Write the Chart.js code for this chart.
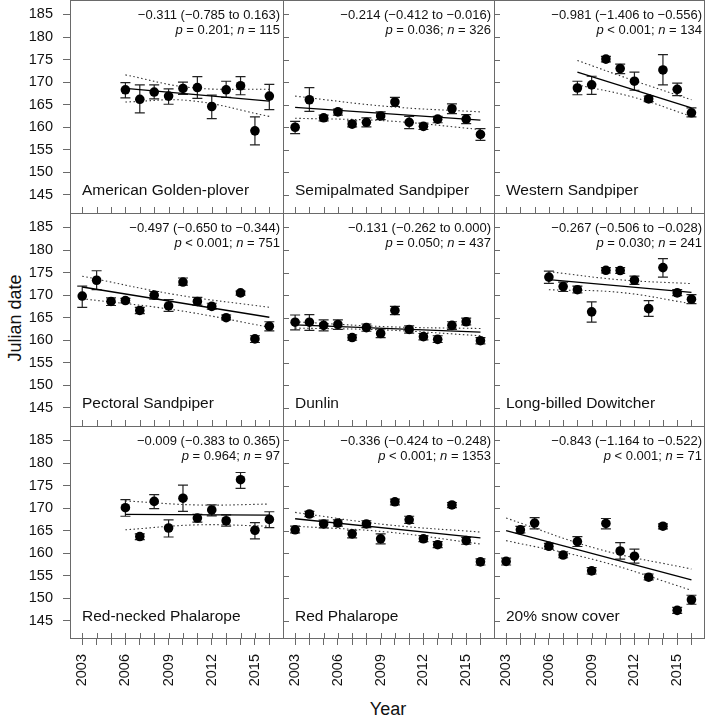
<!DOCTYPE html>
<html>
<head>
<meta charset="utf-8">
<script src="https://cdn.jsdelivr.net/npm/chart.js@4.4.1/dist/chart.umd.min.js"></script>
<style>
html, body { margin: 0; padding: 0; background: #fff; }
#fig { position: relative; width: 709px; height: 718px; overflow: hidden; font-family: "Liberation Sans", Arial, sans-serif; color: #111; }
.panel { position: absolute; }
.lab { position: absolute; font-size: 18px; white-space: nowrap; }
</style>
</head>
<body>
<div id="fig">
  <div class="lab" style="left:15px;top:318px;transform:translate(-50%,-50%) rotate(-90deg);">Julian date</div>
  <div class="lab" style="left:388px;top:709px;transform:translate(-50%,-50%);">Year</div>
</div>
<script>
// --- data ---
const years = [2003, 2004, 2005, 2006, 2007, 2008, 2009, 2010, 2011, 2012, 2013, 2014, 2015, 2016];
const labelYears = [2003, 2006, 2009, 2012, 2015];
const yTicks = [145, 150, 155, 160, 165, 170, 175, 180, 185];

const panelNames = ['American Golden-plover', 'Semipalmated Sandpiper', 'Western Sandpiper',
  'Pectoral Sandpiper', 'Dunlin', 'Long-billed Dowitcher',
  'Red-necked Phalarope', 'Red Phalarope', '20% snow cover'];
const slopeTexts = ['−0.311 (−0.785 to 0.163)', '−0.214 (−0.412 to −0.016)', '−0.981 (−1.406 to −0.556)',
  '−0.497 (−0.650 to −0.344)', '−0.131 (−0.262 to 0.000)', '−0.267 (−0.506 to −0.028)',
  '−0.009 (−0.383 to 0.365)', '−0.336 (−0.424 to −0.248)', '−0.843 (−1.164 to −0.522)'];
const pTexts = ['= 0.201', '= 0.036', '< 0.001', '< 0.001', '= 0.050', '= 0.030', '= 0.964', '< 0.001', '< 0.001'];
const nTexts = ['115', '326', '134', '751', '437', '241', '97', '1353', '71'];

// American Golden-plover
const agpMean = [null, null, null, 168.3, 166.2, 167.8, 166.9, 168.6, 168.8, 164.6, 168.3, 169.2, 159.2, 166.9];
const agpLow  = [null, null, null, 166.5, 163.2, 166.3, 165.1, 167.3, 166.4, 161.9, 166.6, 167.2, 156.1, 163.9];
const agpHigh = [null, null, null, 169.9, 169.4, 169.4, 168.5, 170.0, 171.2, 167.1, 170.2, 171.2, 162.3, 169.5];
const agpFitX = [2006, 2016], agpFit = [168.6, 165.8];
const agpBandX = [2006, 2010.5, 2016], agpUpper = [171.6, 168.8, 168.4], agpLower = [165.6, 165.9, 162.4];

// Semipalmated Sandpiper
const sesaMean = [160.0, 166.1, 162.1, 163.4, 160.7, 161.1, 162.5, 165.6, 161.1, 160.2, 161.8, 164.1, 161.8, 158.4];
const sesaLow  = [158.6, 163.5, 161.4, 162.7, 160.1, 160.1, 161.7, 164.6, 159.7, 159.5, 161.0, 163.0, 160.8, 157.1];
const sesaHigh = [161.3, 168.8, 162.7, 164.0, 161.4, 162.1, 163.4, 166.6, 162.4, 160.9, 162.4, 165.2, 162.8, 159.7];
const sesaFitX = [2003, 2016], sesaFit = [164.4, 161.6];
const sesaBandX = [2003, 2009.5, 2016], sesaUpper = [166.9, 164.6, 163.4], sesaLower = [162.0, 161.4, 159.5];

// Western Sandpiper
const wesaMean = [null, null, null, null, null, 168.7, 169.4, 175.1, 173.0, 170.2, 166.3, 172.7, 168.4, 163.2];
const wesaLow  = [null, null, null, null, null, 167.2, 167.3, 174.5, 171.9, 168.2, 165.7, 169.4, 167.0, 162.3];
const wesaHigh = [null, null, null, null, null, 170.2, 171.3, 175.7, 174.0, 172.2, 166.9, 176.1, 169.8, 164.3];
const wesaFitX = [2008, 2016], wesaFit = [172.2, 164.3];
const wesaBandX = [2008, 2012, 2016], wesaUpper = [174.8, 170.3, 166.1], wesaLower = [169.4, 166.6, 162.4];

// Pectoral Sandpiper
const pesaMean = [169.8, 173.3, 168.6, 168.8, 166.6, 170.0, 167.6, 172.9, 168.6, 167.5, 165.0, 170.5, 160.3, 163.1];
const pesaLow  = [167.3, 171.2, 167.7, 168.3, 165.9, 169.1, 166.4, 172.2, 167.8, 166.9, 164.5, 170.0, 159.5, 162.1];
const pesaHigh = [172.0, 175.4, 169.4, 169.3, 167.3, 170.8, 169.0, 173.8, 169.5, 168.2, 165.6, 170.9, 161.0, 164.1];
const pesaFitX = [2003, 2016], pesaFit = [171.8, 165.1];
const pesaBandX = [2003, 2009.5, 2016], pesaUpper = [174.2, 170.1, 167.3], pesaLower = [169.2, 166.7, 162.9];

// Dunlin
const dunlMean = [164.0, 164.0, 163.3, 163.5, 160.6, 162.8, 161.5, 166.6, 162.4, 160.8, 160.2, 163.3, 164.1, 159.9];
const dunlLow  = [162.3, 162.2, 162.1, 162.4, 160.0, 162.0, 160.6, 165.7, 161.6, 160.1, 159.5, 162.4, 163.4, 159.2];
const dunlHigh = [165.6, 165.7, 164.5, 164.5, 161.2, 163.6, 162.5, 167.5, 163.2, 161.5, 161.0, 164.1, 164.9, 160.6];
const dunlFitX = [2003, 2016], dunlFit = [163.4, 161.8];
const dunlBandX = [2003, 2009.5, 2016], dunlUpper = [164.1, 163.0, 162.6], dunlLower = [162.7, 162.25, 161.0];

// Long-billed Dowitcher
const lbdoMean = [null, null, null, 174.0, 171.9, 171.2, 166.3, 175.5, 175.45, 173.3, 167.0, 176.1, 170.5, 169.1];
const lbdoLow  = [null, null, null, 172.6, 170.8, 170.5, 164.0, 174.9, 174.8, 172.4, 165.3, 174.0, 169.9, 168.1];
const lbdoHigh = [null, null, null, 175.3, 172.9, 172.0, 168.5, 176.1, 176.1, 174.2, 168.8, 178.1, 171.2, 170.1];
const lbdoFitX = [2006, 2016], lbdoFit = [173.45, 170.6];
const lbdoBandX = [2006, 2011, 2016], lbdoUpper = [175.2, 173.4, 172.55], lbdoLower = [171.2, 170.6, 168.1];

// Red-necked Phalarope
const rnphMean = [null, null, null, 170.1, 163.7, 171.5, 165.6, 172.2, 167.8, 169.6, 167.2, 176.3, 165.1, 167.5];
const rnphLow  = [null, null, null, 168.2, 163.0, 169.9, 163.6, 169.3, 166.9, 168.3, 166.0, 174.4, 163.2, 165.7];
const rnphHigh = [null, null, null, 171.9, 164.3, 173.0, 167.4, 175.1, 168.6, 170.7, 168.5, 177.9, 166.8, 169.2];
const rnphFitX = [2006, 2016], rnphFit = [168.6, 168.45];
const rnphBandX = [2006, 2011, 2016], rnphUpper = [171.6, 170.7, 170.9], rnphLower = [165.2, 166.3, 166.0];

// Red Phalarope
const rephMean = [165.2, 168.7, 166.5, 166.7, 164.3, 166.5, 163.2, 171.4, 167.4, 163.2, 161.9, 170.7, 162.8, 158.1];
const rephLow  = [164.5, 168.1, 165.6, 166.0, 163.4, 165.7, 162.1, 170.7, 166.6, 162.6, 161.25, 170.1, 162.0, 157.4];
const rephHigh = [166.0, 169.3, 167.35, 167.4, 165.1, 167.2, 164.3, 172.0, 168.2, 163.9, 162.6, 171.25, 163.5, 158.75];
const rephFitX = [2003, 2016], rephFit = [167.65, 163.4];
const rephBandX = [2003, 2009.5, 2016], rephUpper = [169.05, 166.3, 164.7], rephLower = [166.0, 164.7, 162.05];

// 20% snow cover
const snowMean = [158.2, 165.2, 166.7, 161.55, 159.6, 162.6, 156.1, 166.6, 160.5, 159.35, 154.7, 166.0, 147.35, 149.7];
const snowLow  = [157.4, 164.5, 165.4, 160.9, 159.0, 161.5, 155.4, 165.4, 158.7, 157.8, 154.1, 165.4, 146.7, 148.7];
const snowHigh = [158.9, 165.95, 167.9, 162.2, 160.3, 163.7, 156.8, 167.7, 162.35, 160.9, 155.4, 166.5, 148.0, 150.7];
const snowFitX = [2003, 2016], snowFit = [165.0, 154.1];
const snowBandX = [2003, 2009.5, 2016], snowUpper = [167.8, 160.9, 156.5], snowLower = [162.8, 158.3, 151.8];

const meanSets = [agpMean, sesaMean, wesaMean, pesaMean, dunlMean, lbdoMean, rnphMean, rephMean, snowMean];
const lowSets = [agpLow, sesaLow, wesaLow, pesaLow, dunlLow, lbdoLow, rnphLow, rephLow, snowLow];
const highSets = [agpHigh, sesaHigh, wesaHigh, pesaHigh, dunlHigh, lbdoHigh, rnphHigh, rephHigh, snowHigh];
const fitXSets = [agpFitX, sesaFitX, wesaFitX, pesaFitX, dunlFitX, lbdoFitX, rnphFitX, rephFitX, snowFitX];
const fitSets = [agpFit, sesaFit, wesaFit, pesaFit, dunlFit, lbdoFit, rnphFit, rephFit, snowFit];
const bandXSets = [agpBandX, sesaBandX, wesaBandX, pesaBandX, dunlBandX, lbdoBandX, rnphBandX, rephBandX, snowBandX];
const upperSets = [agpUpper, sesaUpper, wesaUpper, pesaUpper, dunlUpper, lbdoUpper, rnphUpper, rephUpper, snowUpper];
const lowerSets = [agpLower, sesaLower, wesaLower, pesaLower, dunlLower, lbdoLower, rnphLower, rephLower, snowLower];

// --- layout ---
const FONT = '"Liberation Sans", Arial, sans-serif';
const AXIS = '#6a6a6a';
const colLeft = [0, 283, 494], colWidth = [283, 211, 211];
const rowTop = [0, 213, 426], rowHeight = [213, 213, 292];
const xMin = 2002.15, xMax = 2016.95, yMin = 141.0, yMax = 188.2;

function richRight(ctx, parts, xRight, y) {
  let w = 0;
  parts.forEach(p => { ctx.font = p[1]; w += ctx.measureText(p[0]).width; });
  let x = xRight - w;
  ctx.textAlign = 'left';
  parts.forEach(p => { ctx.font = p[1]; ctx.fillText(p[0], x, y); x += ctx.measureText(p[0]).width; });
}

const panelDeco = {
  id: 'panelDeco',
  beforeDatasetsDraw(chart, args, opts) {
    const ctx = chart.ctx, xs = chart.scales.x, ys = chart.scales.y;
    ctx.save();
    ctx.strokeStyle = '#222'; ctx.lineWidth = 1.2;
    chart.data.datasets[0].data.forEach(p => {
      const px = xs.getPixelForValue(p.x), pl = ys.getPixelForValue(p.lo), ph = ys.getPixelForValue(p.hi);
      ctx.beginPath();
      ctx.moveTo(px, pl); ctx.lineTo(px, ph);
      ctx.moveTo(px - 5, pl); ctx.lineTo(px + 5, pl);
      ctx.moveTo(px - 5, ph); ctx.lineTo(px + 5, ph);
      ctx.stroke();
    });
    ctx.restore();
  },
  afterDatasetsDraw(chart, args, opts) {
    const i = opts.index, r = Math.floor(i / 3), c = i % 3;
    const ctx = chart.ctx, a = chart.chartArea, xs = chart.scales.x, ys = chart.scales.y;
    ctx.save();
    ctx.strokeStyle = AXIS; ctx.lineWidth = 1;
    ctx.beginPath();
    // frame: top + left always, right on last column, bottom on last row
    ctx.moveTo(a.left, a.top + 0.5); ctx.lineTo(a.right, a.top + 0.5);
    ctx.moveTo(a.left + 0.5, a.top); ctx.lineTo(a.left + 0.5, a.bottom);
    if (c === 2) { ctx.moveTo(a.right - 0.5, a.top); ctx.lineTo(a.right - 0.5, a.bottom); }
    if (r === 2) { ctx.moveTo(a.left, a.bottom - 0.5); ctx.lineTo(a.right, a.bottom - 0.5); }
    // inner ticks
    years.forEach(v => {
      const px = Math.round(xs.getPixelForValue(v)) + 0.5;
      ctx.moveTo(px, a.bottom); ctx.lineTo(px, a.bottom - 6);
    });
    if (c > 0) {
      yTicks.forEach(v => {
        const py = Math.round(ys.getPixelForValue(v)) + 0.5;
        ctx.moveTo(a.left, py); ctx.lineTo(a.left + 6, py);
      });
    }
    ctx.stroke();

    // texts
    ctx.fillStyle = '#111';
    ctx.textBaseline = 'alphabetic';
    ctx.font = '15.5px ' + FONT;
    ctx.textAlign = 'left';
    ctx.fillText(panelNames[i], a.left + 12, a.bottom - 18);
    const f = '13px ' + FONT, fi = 'italic 13px ' + FONT;
    richRight(ctx, [[slopeTexts[i], f]], a.right - 3, a.top + 19);
    richRight(ctx, [['p', fi], [' ' + pTexts[i] + '; ', f], ['n', fi], [' = ' + nTexts[i], f]], a.right - 3, a.top + 34);
    ctx.restore();
  }
};

const fig = document.getElementById('fig');

function makePanel(i) {
  const r = Math.floor(i / 3), c = i % 3;
  const box = document.createElement('div');
  box.className = 'panel';
  box.style.left = colLeft[c] + 'px'; box.style.top = rowTop[r] + 'px';
  box.style.width = colWidth[c] + 'px'; box.style.height = rowHeight[r] + 'px';
  const cv = document.createElement('canvas');
  box.appendChild(cv);
  fig.appendChild(box);

  const mean = meanSets[i], lo = lowSets[i], hi = highSets[i];
  const pts = [];
  years.forEach((yr, k) => { if (mean[k] != null) pts.push({ x: yr, y: mean[k], lo: lo[k], hi: hi[k] }); });
  const fit = fitXSets[i].map((x, k) => ({ x, y: fitSets[i][k] }));
  const up = bandXSets[i].map((x, k) => ({ x, y: upperSets[i][k] }));
  const dn = bandXSets[i].map((x, k) => ({ x, y: lowerSets[i][k] }));
  const band = { showLine: true, pointRadius: 0, borderColor: '#333', borderWidth: 1.1, borderDash: [1.5, 2.5], tension: 0.4 };

  new Chart(cv, {
    type: 'scatter',
    data: {
      datasets: [
        { data: pts, pointRadius: 4.8, pointBackgroundColor: '#000', pointBorderWidth: 0, pointHoverRadius: 4.8 },
        { data: fit, showLine: true, pointRadius: 0, borderColor: '#000', borderWidth: 1.3 },
        Object.assign({ data: up }, band),
        Object.assign({ data: dn }, band)
      ]
    },
    options: {
      responsive: true, maintainAspectRatio: false, animation: false,
      layout: { padding: 0, autoPadding: false },
      events: [],
      plugins: { legend: { display: false }, tooltip: { enabled: false }, panelDeco: { index: i } },
      scales: {
        x: {
          type: 'linear', min: xMin, max: xMax, display: r === 2,
          afterBuildTicks: s => { s.ticks = years.map(v => ({ value: v })); },
          afterFit: s => {
            s.height = r === 2 ? rowHeight[2] - 213 : 0;
            s.paddingLeft = 0; s.paddingRight = 0;
          },
          border: { display: false },
          grid: { display: true, drawOnChartArea: false, drawTicks: true, tickLength: 6, color: AXIS, lineWidth: 1 },
          ticks: {
            autoSkip: false, maxRotation: 90, minRotation: 90, padding: 9, color: '#111',
            font: { family: FONT, size: 14.5 },
            callback: v => labelYears.includes(v) ? String(v) : ''
          }
        },
        y: {
          type: 'linear', min: yMin, max: yMax, display: c === 0,
          afterBuildTicks: s => { s.ticks = yTicks.map(v => ({ value: v })); },
          afterFit: s => {
            s.width = c === 0 ? 70 : 0;
            s.paddingTop = 0; s.paddingBottom = 0;
          },
          border: { display: false },
          grid: { display: true, drawOnChartArea: false, drawTicks: true, tickLength: 7, color: AXIS, lineWidth: 1 },
          ticks: { padding: 10, color: '#111', font: { family: FONT, size: 14.5 } }
        }
      }
    },
    plugins: [panelDeco]
  });
}

for (let i = 0; i < 9; i++) makePanel(i);
</script>
</body>
</html>
